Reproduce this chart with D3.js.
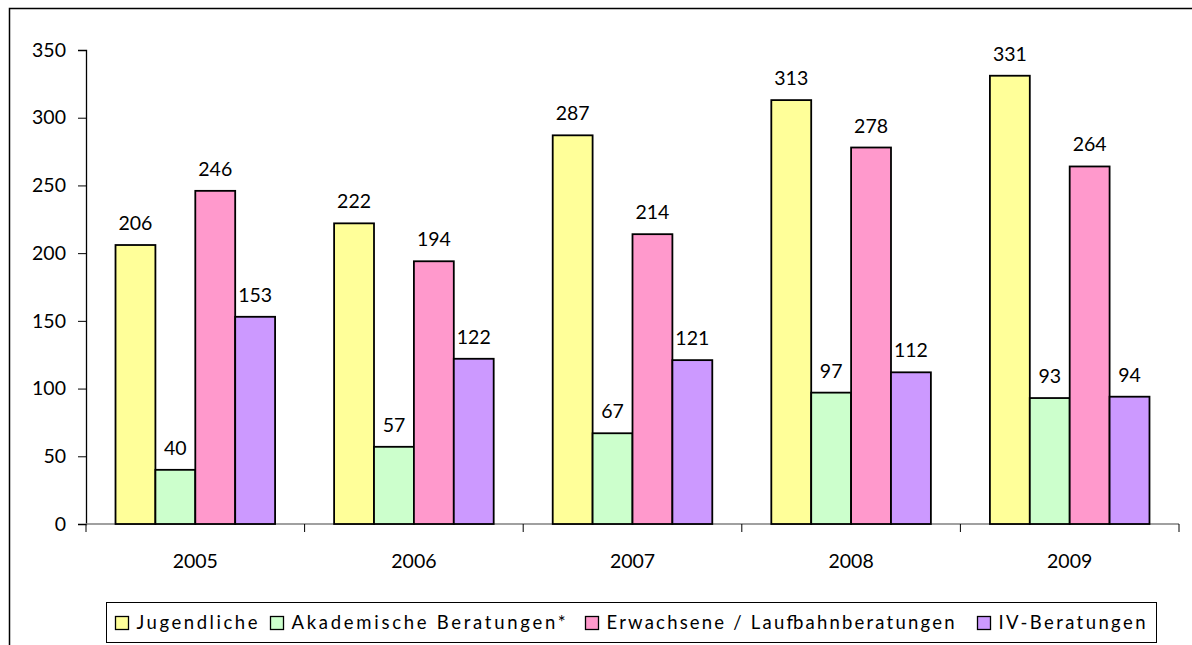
<!DOCTYPE html>
<html lang="de">
<head>
  <meta charset="UTF-8">
  <title>Beratungen 2005-2009</title>
  <style>
    body { margin: 0; background: #fff; }
    svg { display: block; font-family: Lato, "Open Sans", sans-serif; }
    .tick text, .lbl { font-size: 19.5px; fill: #000; }
    .leg text { font-size: 18.5px; }
  </style>
</head>
<body>
  <svg id="chart" width="1192" height="645"></svg>
  <script src="https://d3js.org/d3.v7.min.js"></script>
  <script>
    // data
    const years = ["2005", "2006", "2007", "2008", "2009"];
    const seriesNames = ["Jugendliche", "Akademische Beratungen*", "Erwachsene / Laufbahnberatungen", "IV-Beratungen"];
    const seriesColors = ["#ffff99", "#ccffcc", "#ff99cc", "#cc99ff"];
    const jugendliche = [206, 222, 287, 313, 331];
    const akademische = [40, 57, 67, 97, 93];
    const erwachsene = [246, 194, 214, 278, 264];
    const ivBeratungen = [153, 122, 121, 112, 94];
    const yTicks = [0, 50, 100, 150, 200, 250, 300, 350];

    const series = [jugendliche, akademische, erwachsene, ivBeratungen];

    const svg = d3.select("#chart");
    const plot = { left: 86, right: 1179, top: 50, bottom: 524 };

    // outer frame, runs off the right / bottom edge like the original
    svg.append("rect")
      .attr("x", 9.5).attr("y", 8.5)
      .attr("width", 1300).attr("height", 800)
      .attr("fill", "none").attr("stroke", "#000").attr("stroke-width", 1.5);

    const y = d3.scaleLinear().domain([0, 350]).range([plot.bottom, plot.top]);
    const x0 = d3.scaleBand().domain(years).range([plot.left, plot.right])
      .paddingInner(0.27).paddingOuter(0.135);
    const x1 = d3.scaleBand().domain(d3.range(series.length)).range([0, x0.bandwidth()]);

    // y axis
    const yAxis = svg.append("g")
      .attr("transform", `translate(${plot.left},0)`)
      .call(d3.axisLeft(y).tickValues(yTicks).tickSize(8).tickPadding(12));
    yAxis.attr("font-family", null).attr("font-size", null);
    yAxis.select(".domain").attr("stroke", "#000").attr("stroke-width", 1.3);
    yAxis.selectAll(".tick line").attr("stroke", "#000");

    // x axis: ticks at category boundaries
    const xg = svg.append("g");
    xg.append("line")
      .attr("x1", plot.left).attr("x2", plot.right)
      .attr("y1", plot.bottom).attr("y2", plot.bottom)
      .attr("stroke", "#808080").attr("stroke-width", 1.5);
    const step = x0.step();
    const bounds = d3.range(years.length + 1).map(i => plot.left + i * step);
    xg.selectAll(".xt").data(bounds).join("line")
      .attr("x1", d => d).attr("x2", d => d)
      .attr("y1", plot.bottom).attr("y2", plot.bottom + 8)
      .attr("stroke", "#000");
    xg.selectAll(".xl").data(years).join("text")
      .attr("class", "lbl")
      .attr("x", d => x0(d) + x0.bandwidth() / 2)
      .attr("y", 568)
      .attr("text-anchor", "middle")
      .text(d => d);

    // bars
    const cells = [];
    years.forEach((yr, i) => series.forEach((s, k) => cells.push({ yr, k, v: s[i] })));

    svg.append("g").selectAll("rect").data(cells).join("rect")
      .attr("x", d => x0(d.yr) + x1(d.k))
      .attr("y", d => y(d.v))
      .attr("width", x1.bandwidth())
      .attr("height", d => plot.bottom - y(d.v))
      .attr("fill", d => seriesColors[d.k])
      .attr("stroke", "#000")
      .attr("stroke-width", 1.8);

    svg.append("g").selectAll("text").data(cells).join("text")
      .attr("class", "lbl")
      .attr("x", d => x0(d.yr) + x1(d.k) + x1.bandwidth() / 2)
      .attr("y", d => y(d.v) - 15)
      .attr("text-anchor", "middle")
      .text(d => d.v);

    // legend (Excel spreads the letters, so stretch each label to its width)
    const legX = [115, 270, 585, 977];
    const legW = [121, 274, 348, 147];
    const leg = svg.append("g").attr("class", "leg");
    leg.append("rect")
      .attr("x", 106.5).attr("y", 602.5)
      .attr("width", 1050).attr("height", 40)
      .attr("fill", "#fff").attr("stroke", "#000").attr("stroke-width", 1);
    const items = leg.selectAll("g.item").data(seriesNames).join("g")
      .attr("class", "item")
      .attr("transform", (d, i) => `translate(${legX[i]},0)`);
    items.append("rect")
      .attr("x", 0.5).attr("y", 616.5)
      .attr("width", 13).attr("height", 13)
      .attr("fill", (d, i) => seriesColors[i])
      .attr("stroke", "#000").attr("stroke-width", 1.3);
    items.append("text")
      .attr("x", 21.5).attr("y", 629)
      .attr("textLength", (d, i) => legW[i])
      .attr("lengthAdjust", "spacing")
      .text(d => d);
  </script>
</body>
</html>
